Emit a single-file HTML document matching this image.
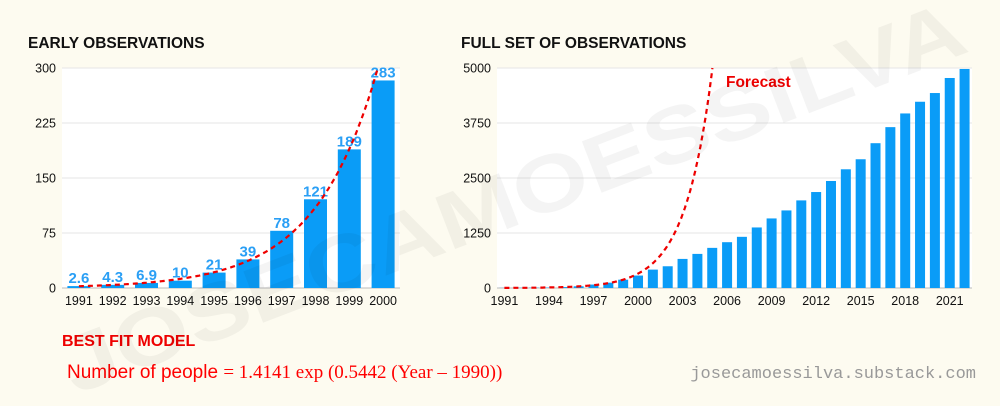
<!DOCTYPE html>
<html><head><meta charset="utf-8"><style>
body{margin:0;background:#fdfbf0;}
#wrap{position:relative;width:1000px;height:406px;overflow:hidden;background:#fdfbf0;font-family:"Liberation Sans",sans-serif;}
svg text{font-family:"Liberation Sans",sans-serif;}
</style></head><body>
<div id="wrap">
<svg id="svg" width="1000" height="406">
<text x="28" y="48" font-size="15.5" font-weight="bold" fill="#111">EARLY OBSERVATIONS</text>
<text x="461" y="48" font-size="15.5" font-weight="bold" fill="#111">FULL SET OF OBSERVATIONS</text>
<g id="left"></g>
<g id="right"></g>
<text x="62" y="346" font-size="16" font-weight="bold" fill="#e00">BEST FIT MODEL</text>
<text x="67" y="378" font-size="19" fill="#f00">Number of people <tspan font-family="Liberation Serif,serif">= 1.4141 exp (0.5442 (Year – 1990))</tspan></text>
<text x="976" y="378" text-anchor="end" font-size="17" fill="#999" font-family="Liberation Mono,monospace" style="font-family:'Liberation Mono',monospace">josecamoessilva.substack.com</text>
<text x="0" y="0" transform="translate(75,395) rotate(-21)" font-size="80" font-weight="bold" textLength="960" lengthAdjust="spacingAndGlyphs" fill="rgba(0,0,0,0.045)">JOSECAMOESSILVA</text>
</svg>
</div>
<script>
const earlyYears=[1991,1992,1993,1994,1995,1996,1997,1998,1999,2000];
const earlyValues=[2.6,4.3,6.9,10,21,39,78,121,189,283];
const earlyLabels=["2.6","4.3","6.9","10","21","39","78","121","189","283"];
const leftTicks=[0,75,150,225,300];
const fullYears=[];for(let y=1991;y<=2022;y++)fullYears.push(y);
const laterValues=[418,494,661,775,912,1041,1163,1376,1581,1763,1991,2181,2432,2698,2926,3291,3656,3967,4233,4431,4773,4978];
const fullValues=earlyValues.concat(laterValues);
const rightTicks=[0,1250,2500,3750,5000];
const rightXLabels=[1991,1994,1997,2000,2003,2006,2009,2012,2015,2018,2021];
const modelA=1.4141,modelB=0.5442,modelBase=1990;
const NS="http://www.w3.org/2000/svg";
function mk(p,t,a){const e=document.createElementNS(NS,t);for(const k in a)e.setAttribute(k,a[k]);p.appendChild(e);return e;}
function chart(g,o){
  const{x0,x1,y0,y1,max,ticks,years,vals,barW,xlabels,labels,fcMax}=o;
  const bw=(x1-x0)/years.length;
  const X=i=>x0+bw*(i+0.5);
  const Xy=yr=>x0+bw*(yr-years[0]+0.5);
  const Y=v=>y0-(v/max)*(y0-y1);
  const bg=mk(g,'rect',{x:x0,y:y1,width:x1-x0,height:y0-y1,fill:'#fff'});
  
  ticks.forEach(t=>{
    const l=mk(g,'line',{x1:x0,x2:x1,y1:Y(t),y2:Y(t),stroke:t===0?'#bbb':'#e6e6e6','stroke-width':1});
    
    const tx=mk(g,'text',{x:x0-6,y:Y(t)+4.5,'text-anchor':'end','font-size':12.5,fill:'#111'});tx.textContent=t;
    
  });
  vals.forEach((v,i)=>{
    const r=mk(g,'rect',{x:X(i)-barW/2,y:Y(v),width:barW,height:y0-Y(v),fill:'#0a9cf7'});
    
    if(labels){const t=mk(g,'text',{x:X(i),y:Y(v)-3,'text-anchor':'middle','font-size':15,'font-weight':'bold',fill:'#2a9ff5'});t.textContent=labels[i];
      }
  });
  xlabels.forEach(yr=>{const t=mk(g,'text',{x:Xy(yr),y:y0+17,'text-anchor':'middle','font-size':12.5,fill:'#111'});t.textContent=yr;
    });
  let d='';const yrEnd=modelBase+Math.log(fcMax/modelA)/modelB;
  for(let yr=years[0];yr<=Math.min(yrEnd,years[years.length-1]+0.5);yr+=0.05){const v=modelA*Math.exp(modelB*(yr-modelBase));d+=(d?'L':'M')+Xy(yr).toFixed(1)+','+Y(Math.min(v,fcMax)).toFixed(1);}
  if(yrEnd<years[years.length-1])d+='L'+Xy(yrEnd).toFixed(1)+','+Y(fcMax).toFixed(1);
  const p=mk(g,'path',{d:d,fill:'none',stroke:'#e00','stroke-width':2.2,'stroke-dasharray':'5,4'});
  
}
chart(document.getElementById('left'),{x0:62,x1:400,y0:288,y1:68,max:300,ticks:leftTicks,years:earlyYears,vals:earlyValues,barW:23,xlabels:earlyYears,labels:earlyLabels,fcMax:300});
chart(document.getElementById('right'),{x0:497,x1:972,y0:288,y1:68,max:5000,ticks:rightTicks,years:fullYears,vals:fullValues,barW:10,xlabels:rightXLabels,labels:null,fcMax:5000});
const fc=mk(document.getElementById('right'),'text',{x:726,y:87,'font-size':15.5,'font-weight':'bold',fill:'#e00'});fc.textContent='Forecast';


</script>
</body></html>
